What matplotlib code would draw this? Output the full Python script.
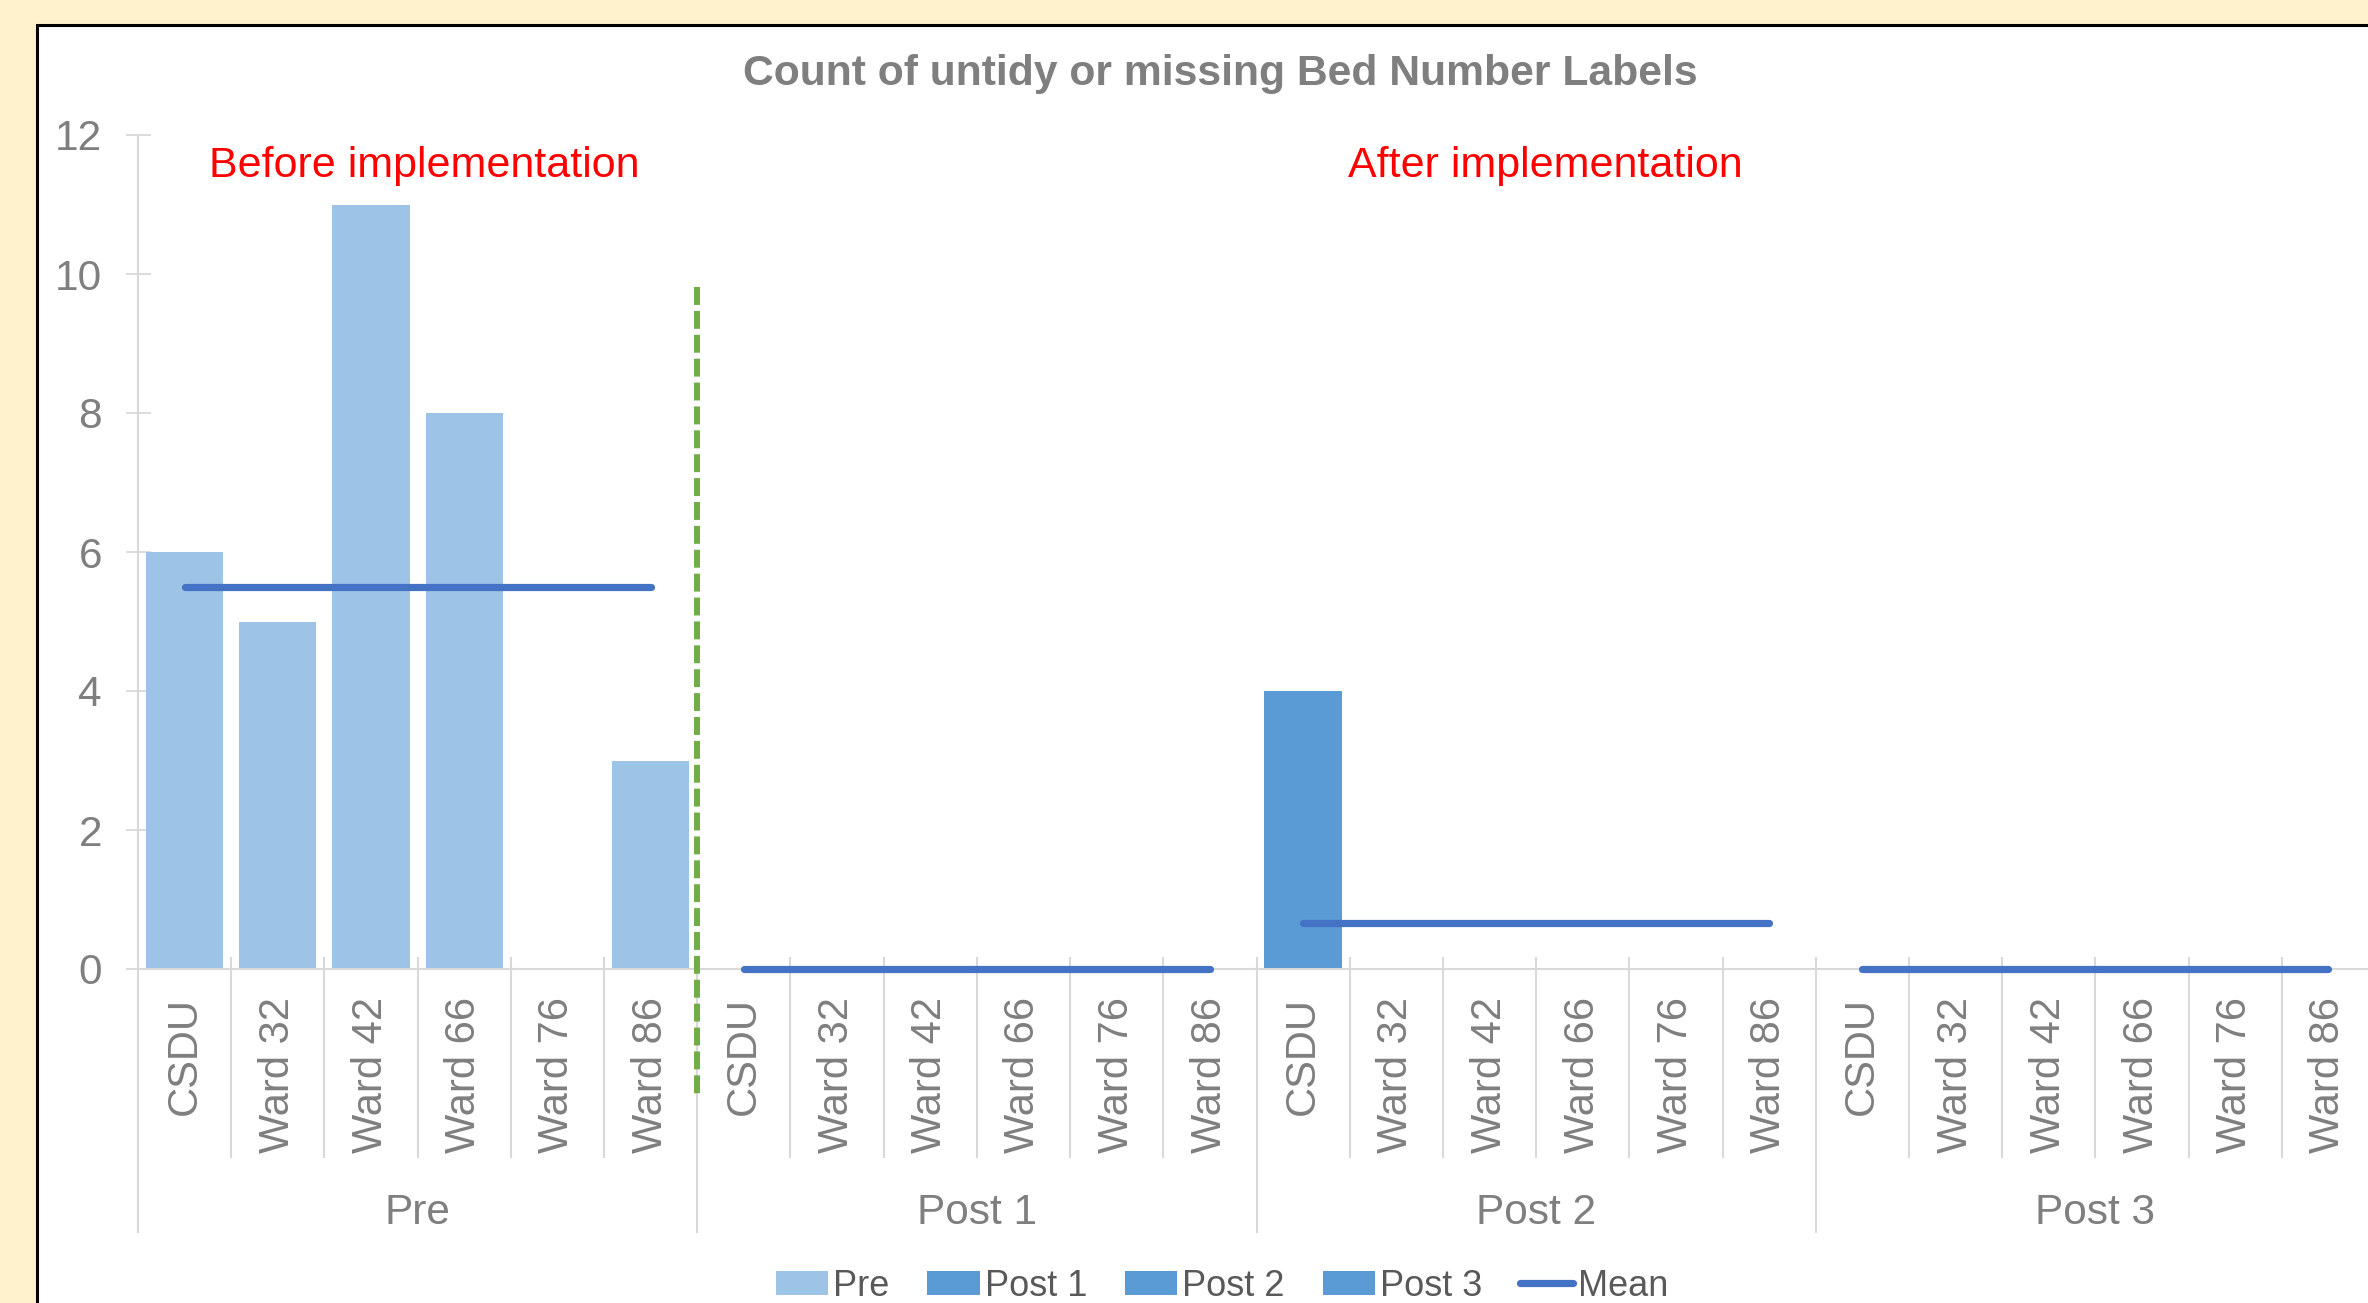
import matplotlib.pyplot as plt
import numpy as np
from matplotlib.patches import Rectangle

wards = ["CSDU", "Ward 32", "Ward 42", "Ward 66", "Ward 76", "Ward 86"]
phases = ["Pre", "Post 1", "Post 2", "Post 3"]

pre = [6, 5, 11, 8, 0, 3]
post1 = [0, 0, 0, 0, 0, 0]
post2 = [4, 0, 0, 0, 0, 0]
post3 = [0, 0, 0, 0, 0, 0]

bar_colors = ["#9DC3E6", "#5B9BD5", "#5B9BD5", "#5B9BD5"]
mean_color = "#4472C4"
grey = "#7F7F7F"
axis_grey = "#D9D9D9"

plt.rcParams['font.family'] = ['Liberation Sans', 'DejaVu Sans']

W, H = 2368, 1303
fig = plt.figure(figsize=(W / 100, H / 100), dpi=100)
fig.patch.set_facecolor("#FFF2CC")

# white chart box with black border (runs off the right/bottom edge)
fig.add_artist(Rectangle((37 / W, -0.05), 1.0, 1 - 25 / H + 0.05,
                         transform=fig.transFigure, facecolor="white",
                         edgecolor="black", linewidth=2.2, zorder=-1))

ax = fig.add_axes([138 / W, (H - 969) / H, 2237 / W, 834 / H])
ax.patch.set_alpha(0)

groups = [pre, post1, post2, post3]
n = len(wards)
for g, vals in enumerate(groups):
    xs = g * n + np.arange(n)
    ax.bar(xs, vals, width=0.83, color=bar_colors[g], label=phases[g], zorder=2)
    m = np.mean(vals)
    ax.plot([xs[0], xs[-1]], [m, m], color=mean_color, lw=5.2,
            solid_capstyle="round", zorder=3, clip_on=False,
            label="Mean" if g == 0 else "_nolegend_")

ax.set_xlim(-0.5, len(groups) * n - 0.5)
ax.set_ylim(0, 12)

for s in ["top", "right", "left"]:
    ax.spines[s].set_visible(False)
ax.spines["bottom"].set_color(axis_grey)
ax.spines["bottom"].set_linewidth(1.5)

ax.set_yticks(range(0, 13, 2))
ax.tick_params(axis="y", direction="inout", length=18, width=1.3, color=axis_grey,
               labelsize=30.5, labelcolor=grey, pad=17)

centers = np.arange(len(groups) * n)
ax.set_xticks(centers)
ax.set_xticklabels(wards * len(groups), rotation=90)
ax.tick_params(axis="x", length=0, pad=20, labelsize=30, labelcolor=grey)

# category / group separators below the axis
xt = ax.get_xaxis_transform()
ax.vlines(-0.5, -0.3165, 1.0, color=axis_grey, lw=1.5, transform=xt, clip_on=False)
for b in range(1, len(groups) * n + 1):
    low = -0.3165 if b % n == 0 else -0.2266
    ax.vlines(b - 0.5, low, 0.0144, color=axis_grey, lw=1.5, transform=xt, clip_on=False)

for g, ph in enumerate(phases):
    ax.text(g * n + (n - 1) / 2, -0.2926, ph, transform=xt, ha="center", va="center",
            fontsize=30.5, color=grey)

# split between before / after
ax.plot([n - 0.5, n - 0.5], [9.81, -1.87], color="#70AD47", lw=4.3,
        dashes=(3, 1), clip_on=False, zorder=4)

ax.text(2.57, 11.56, "Before implementation", color="#FF0000", fontsize=31,
        ha="center", va="center")
ax.text(14.6, 11.56, "After implementation", color="#FF0000", fontsize=31,
        ha="center", va="center")

fig.text(1220 / W, 1 - 74 / H, "Count of untidy or missing Bed Number Labels",
         ha="center", va="center", fontsize=30.7, fontweight="bold", color=grey)

handles, labels = ax.get_legend_handles_labels()
order = [labels.index(l) for l in phases + ["Mean"]]
fig.legend([handles[i] for i in order], [labels[i] for i in order],
           loc="center", bbox_to_anchor=(1222 / W, 1 - 1286 / H), ncol=5,
           frameon=False, fontsize=26, handlelength=1.45, handleheight=0.67,
           handletextpad=0.14, columnspacing=1.05, labelcolor="#595959")

fig.savefig("out.png", dpi=100, facecolor=fig.get_facecolor())
